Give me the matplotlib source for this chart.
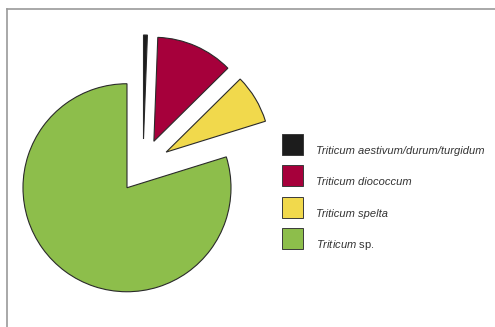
import matplotlib
matplotlib.use("Agg")
import matplotlib.pyplot as plt
from matplotlib.patches import Rectangle

plt.rcParams['font.family'] = ['Liberation Sans', 'DejaVu Sans']
plt.rcParams['mathtext.fontset'] = 'custom'
plt.rcParams['mathtext.rm'] = 'Liberation Sans'
plt.rcParams['mathtext.it'] = 'Liberation Sans:italic'

# share of finds per wheat type (%)
labels = ["Triticum aestivum/durum/turgidum",
          "Triticum diococcum",
          "Triticum spelta",
          r"$\mathit{Triticum}$ sp."]
shares = [0.6, 12.0, 7.6, 79.8]
colors = ["#1c1c1c", "#a6003b", "#f1d94c", "#8dbe4b"]

fig = plt.figure(figsize=(4.95, 3.27), dpi=100)
ax = fig.add_axes([7/495, 0, 488/495, 318/327])   # axes in pixel units (y from bottom)

wedges, _ = ax.pie(shares, colors=colors, startangle=90, counterclock=False,
                   center=(143, 161), radius=104, explode=[27]*4,
                   wedgeprops=dict(edgecolor="#2a2a2a", linewidth=0.8))
ax.set_xlim(7, 495)
ax.set_ylim(0, 318)
ax.set_aspect('equal')
ax.set_frame_on(True)
ax.set_xticks([])
ax.set_yticks([])
for s in ['right', 'bottom']:
    ax.spines[s].set_visible(False)
for s in ['left', 'top']:
    ax.spines[s].set_color('#9a9a9a')
    ax.spines[s].set_linewidth(1.2)

# legend boxes drawn by hand
top = 327 - 134
step = 31.3
for i, (lab, c) in enumerate(zip(labels, colors)):
    y = top - i * step
    ax.add_patch(Rectangle((282, y - 21), 21, 21, facecolor=c,
                           edgecolor="#3a3a3a", linewidth=0.7))
    ax.text(316, y - 20, lab, fontsize=8, color='#333333',
            fontstyle='italic' if i < 3 else 'normal', va='baseline', ha='left')

fig.savefig("out.png", dpi=100)
